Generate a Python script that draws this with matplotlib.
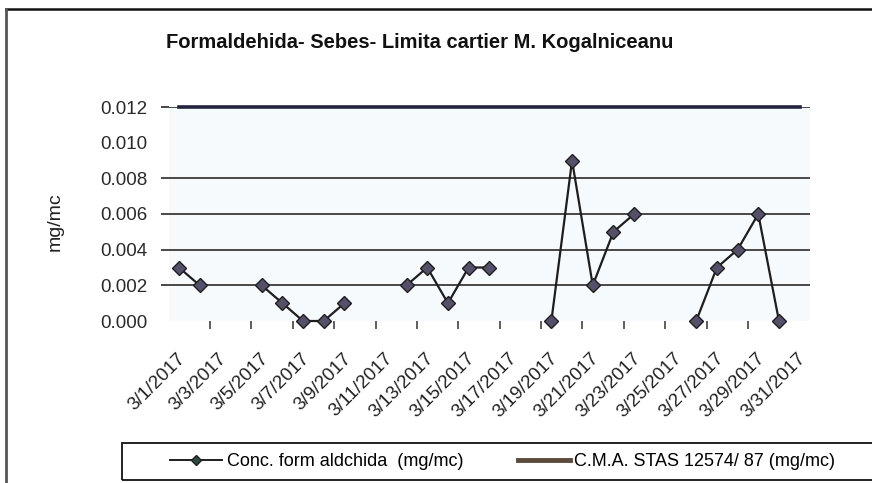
import matplotlib
matplotlib.use("Agg")
import matplotlib.pyplot as plt
import matplotlib.transforms as mtransforms
from matplotlib.lines import Line2D
from matplotlib.patches import Rectangle
import numpy as np

nan = np.nan

dates = ["3/1/2017", "3/2/2017", "3/3/2017", "3/4/2017", "3/5/2017", "3/6/2017",
         "3/7/2017", "3/8/2017", "3/9/2017", "3/10/2017", "3/11/2017", "3/12/2017",
         "3/13/2017", "3/14/2017", "3/15/2017", "3/16/2017", "3/17/2017", "3/18/2017",
         "3/19/2017", "3/20/2017", "3/21/2017", "3/22/2017", "3/23/2017", "3/24/2017",
         "3/25/2017", "3/26/2017", "3/27/2017", "3/28/2017", "3/29/2017", "3/30/2017",
         "3/31/2017"]

conc = [0.003, 0.002, nan, nan, 0.002, 0.001, 0.000, 0.000, 0.001, nan, nan,
        0.002, 0.003, 0.001, 0.003, 0.003, nan, nan, 0.000, 0.009, 0.002, 0.005,
        0.006, nan, nan, 0.000, 0.003, 0.004, 0.006, 0.000, nan]

cma = [0.012, 0.012, 0.012, 0.012, 0.012, 0.012, 0.012, 0.012, 0.012, 0.012, 0.012,
       0.012, 0.012, 0.012, 0.012, 0.012, 0.012, 0.012, 0.012, 0.012, 0.012, 0.012,
       0.012, 0.012, 0.012, 0.012, 0.012, 0.012, 0.012, 0.012, 0.012]

tick_labels = dates[::2]
yticks = [0.000, 0.002, 0.004, 0.006, 0.008, 0.010, 0.012]

title = "Formaldehida- Sebes- Limita cartier M. Kogalniceanu"
ylabel = "mg/mc"
label_conc = "Conc. form aldchida  (mg/mc)"
label_cma = "C.M.A. STAS 12574/ 87 (mg/mc)"

plt.rcParams["font.family"] = ["Liberation Sans", "DejaVu Sans"]

W, H = 872, 483
fig = plt.figure(figsize=(W / 100, H / 100), dpi=100)
fig.patch.set_facecolor("white")

x = np.arange(len(dates))

left, right, top, bottom = 168.6, 810.0, 107.0, 321.0
ax = fig.add_axes([left / W, 1 - bottom / H, (right - left) / W, (bottom - top) / H])
ax.set_facecolor("#f7fafd")
ax.set_xlim(-0.5, len(dates) - 0.5)
ax.set_ylim(0, 0.012)

for s in ax.spines.values():
    s.set_visible(False)

# gridlines
ax.set_yticks(yticks)
ax.set_yticklabels([f"{v:.3f}" for v in yticks], fontsize=13.5, color="#2a2a2a")
ax.yaxis.grid(True, color="#2a2a2a", linewidth=1.2)
ax.set_axisbelow(True)
ax.tick_params(axis="y", length=6, width=1.2, color="#2a2a2a", pad=9)
for t, v in zip(ax.yaxis.get_major_ticks(), yticks):
    if v == 0.0 or abs(v - 0.010) < 1e-9:
        t.gridline.set_visible(False)
        t.tick1line.set_visible(False)

# x ticks
ax.set_xticks(x[::2])
ax.set_xticklabels(tick_labels, rotation=45, ha="right", va="center",
                   rotation_mode="anchor", fontsize=13.5, color="#222222")
ax.set_xticks(np.arange(1.5, 28.0, 2.0), minor=True)
ax.tick_params(axis="x", which="major", length=0, pad=25)
ax.tick_params(axis="x", which="minor", length=6, width=1.1, color="#333333")
offset = mtransforms.ScaledTranslation(4 / 100, 0, fig.dpi_scale_trans)
for lbl in ax.get_xticklabels():
    lbl.set_transform(lbl.get_transform() + offset)

# series
ax.plot(x, cma, color="#23233f", linewidth=2.6, solid_capstyle="projecting",
        clip_on=False, zorder=3)
ax.plot(x, conc, color="#1e1e1e", linewidth=1.6, marker="D", markersize=7.5,
        markerfacecolor="#55506a", markeredgecolor="#1e1e1e", markeredgewidth=1.0,
        clip_on=False, zorder=4)

# title & y label
fig.text(420 / W, 1 - 43 / H, title, ha="center", va="center",
         fontsize=14.5, fontweight="bold", color="#111111")
fig.text(55 / W, 1 - 222 / H, ylabel, rotation=90, ha="center", va="center",
         fontsize=14, color="#222222")

# chart border (cropped)
fig.add_artist(Line2D([6 / W, 1.0], [1 - 9 / H, 1 - 9 / H], transform=fig.transFigure,
                      color="#111111", linewidth=1.8))
fig.add_artist(Line2D([6 / W, 6 / W], [1 - 9 / H, 0.0], transform=fig.transFigure,
                      color="#555555", linewidth=2.0))

# legend box (cropped at the right)
fig.add_artist(Rectangle((122 / W, 1 - 480 / H), (W + 10 - 122) / W, 37 / H,
                         transform=fig.transFigure, fill=False, edgecolor="#111111",
                         linewidth=1.3, clip_on=False))
h1 = Line2D([], [], color="#1e1e1e", linewidth=1.4, marker="D", markersize=5.5,
            markerfacecolor="#2f4a3a", markeredgecolor="#1e1e1e")
h2 = Line2D([], [], color="#5a4a3a", linewidth=3.5)
fig.legend([h1, h2], [label_conc, label_cma], ncol=2, frameon=False,
           loc="center left", bbox_to_anchor=(170 / W, 1 - 462 / H),
           fontsize=13, handlelength=2.9, handletextpad=0.25, columnspacing=3.0,
           borderpad=0, borderaxespad=0)

fig.savefig("out.png", dpi=100, facecolor=fig.get_facecolor())
